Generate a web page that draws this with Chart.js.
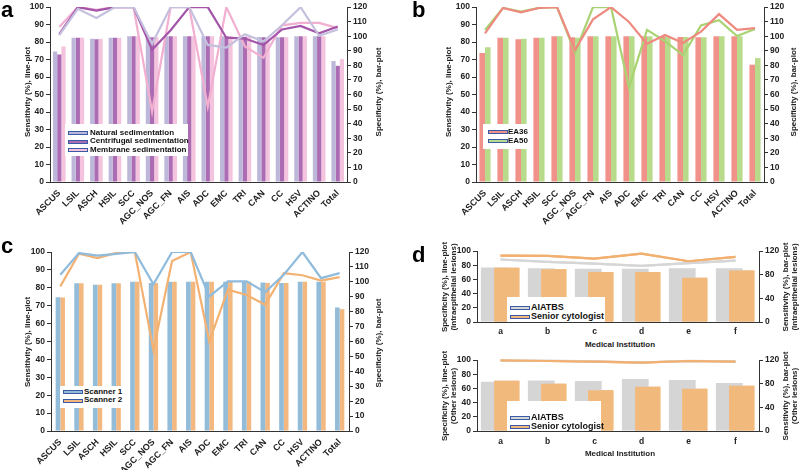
<!DOCTYPE html>
<html><head><meta charset="utf-8">
<script src="https://cdn.jsdelivr.net/npm/chart.js@4/dist/chart.umd.min.js"></script>
<style>
body{margin:0;background:#fff;width:800px;height:470px;position:relative;overflow:hidden;font-family:'Liberation Sans',Arial,sans-serif;}
canvas{position:absolute;}
.t{position:absolute;font-weight:bold;font-size:8px;color:#222;white-space:nowrap;text-align:center;line-height:9px;transform:translate(-50%,-50%) rotate(-90deg);}
.h{position:absolute;font-weight:bold;font-size:8px;color:#222;white-space:nowrap;transform:translate(-50%,-50%);}
.p{position:absolute;font-weight:bold;font-size:22px;line-height:25px;color:#000;}
.lg{position:absolute;background:#fff;}
.lg .it{position:absolute;white-space:nowrap;font-weight:bold;color:#111;}
.lg .sw{position:absolute;width:18px;height:2px;border:1px solid #3a5aa6;}
</style>
</head><body>
<canvas id="ca" width="400" height="235" style="left:0;top:0"></canvas>
<canvas id="cb" width="400" height="235" style="left:400px;top:0"></canvas>
<canvas id="cc" width="400" height="235" style="left:0;top:235px"></canvas>
<canvas id="cd1" width="400" height="100" style="left:400px;top:235px"></canvas>
<canvas id="cd2" width="400" height="100" style="left:400px;top:350px"></canvas>
<script>
// ---------- data ----------
const lesionTypes = ['ASCUS','LSIL','ASCH','HSIL','SCC','AGC_NOS','AGC_FN','AIS','ADC','EMC','TRI','CAN','CC','HSV','ACTINO','Total'];
// panel a
const sensNatural     = [84, 99, 93.8, 100, 100, 79, 100, 100, 78.4, 76.9, 84.5, 80.3, 89.6, 100, 83.6, 87.2];
const sensCentrifugal = [84.5, 100, 98, 100, 100, 75.6, 86.8, 100, 100, 82.5, 82, 78.3, 87.2, 89.2, 85, 88.9];
const sensMembrane    = [88.6, 100, 98.5, 100, 100, 40.2, 100, 100, 43, 100, 77.5, 71, 89.6, 91, 91, 88];
const specNatural     = [89.5, 99, 98.3, 99, 100, 99.3, 100, 100, 100, 100, 100, 99.5, 99.3, 100, 100, 83];
const specCentrifugal = [87.5, 99, 98, 99, 100, 99.3, 100, 100, 100, 100, 99.7, 99.3, 99.3, 100, 100, 79.7];
const specMembrane    = [93, 99, 98.3, 99, 100, 99.3, 100, 100, 100, 100, 99.7, 99.3, 99.3, 100, 100, 84.3];
// panel b
const sensEA36 = [85, 99.5, 97, 99.5, 100, 75.5, 93, 100, 91.5, 79, 84, 79.5, 86, 96, 87, 88];
const sensEA50 = [87, 99.5, 97.5, 99.5, 100, 74, 100, 100, 54, 87, 80.5, 72.5, 89.5, 92.5, 83.5, 87.5];
const specEA36 = [88.5, 99, 98, 99, 100, 99.3, 100, 100, 100, 100, 100, 99.5, 99.3, 100, 100, 80.5];
const specEA50 = [92.5, 99, 98.3, 99, 100, 99, 100, 100, 100, 100, 100, 99.5, 99.3, 100, 100, 85];
// panel c
const sensScanner1 = [87.3, 99.4, 98, 99, 100, 82, 100, 100, 75.2, 83.6, 83.6, 77.6, 87.3, 100, 85.4, 88.2];
const sensScanner2 = [80.8, 99, 96.6, 99.5, 100, 45.3, 95, 100, 50, 79, 76, 70.5, 88.2, 87, 84, 86];
const specScanner1 = [89.7, 99, 98, 99, 100, 99.3, 100, 100, 100, 100, 100, 99.5, 99.3, 100, 100, 82.8];
const specScanner2 = [89.5, 99, 98, 99, 100, 99.3, 100, 100, 100, 100, 100, 99.3, 99.3, 100, 100, 81.7];
// panel d
const institutions = ['a','b','c','d','e','f'];
const specIntraAI     = [88, 84.7, 82.3, 79, 82.8, 86.5];
const specIntraSenior = [93.5, 93, 89.3, 96.3, 85.6, 91.6];
const sensIntraAI     = [92, 91, 89.8, 89.8, 91, 91];
const sensIntraSenior = [91.5, 89.3, 84.3, 84.3, 74.8, 87];
const specOtherAI     = [99.5, 99, 98, 96.5, 98.8, 98];
const specOtherSenior = [99.5, 98.6, 97.6, 96.2, 98.6, 97.6];
const sensOtherAI     = [83.2, 85.5, 84.3, 87.7, 86, 81];
const sensOtherSenior = [84.9, 79.8, 69, 74.7, 71.3, 76.4];

// ---------- setup ----------
Chart.defaults.font.family = "'Liberation Sans', Arial, sans-serif";
Chart.defaults.font.weight = 'bold';
Chart.defaults.font.size = 8;
Chart.defaults.color = '#222';

const redrawPlugin = {
  id: 'redraw',
  afterDatasetsDraw(chart, args, opts) {
    (opts.ids || []).forEach(i => chart.getDatasetMeta(i).controller.draw());
  }
};

function yAxis(pos, max, step, width) {
  return {
    position: pos, min: 0, max: max,
    ticks: {stepSize: step, padding: 2, color: '#222', font: {size: 8.5, weight: 'bold'}},
    grid: {drawOnChartArea: false, drawTicks: true, tickLength: 4, color: '#333', lineWidth: 1},
    border: {display: true, color: '#333', width: 1},
    afterFit(s) { s.width = width; }
  };
}
function xAxis(height, rotate, pad, fs) {
  return {
    grid: {display: false, drawTicks: false},
    border: {display: true, color: '#333', width: 1},
    ticks: {autoSkip: false, maxRotation: rotate, minRotation: rotate, padding: pad, color: '#222', font: {size: fs, weight: 'bold'}},
    afterFit(s) { s.height = height; }
  };
}
function lineDs(data, color, order) {
  return {type: 'line', data, borderColor: color, backgroundColor: color, borderWidth: 2.2, pointRadius: 0, tension: 0, fill: false, yAxisID: 'yL', order: order};
}
function barDs(data, color, order, cat, bp) {
  return {type: 'bar', data, backgroundColor: color, borderWidth: 0, yAxisID: 'yR', order: order, categoryPercentage: cat, barPercentage: bp};
}
function make(id, labels, datasets, pad, wl, wr, xh, rot, xpad, xfs, lstep, rstep, redraw) {
  return new Chart(document.getElementById(id), {
    data: {labels, datasets},
    options: {
      responsive: false, animation: false,
      layout: {padding: {top: pad, left: 0, right: 0, bottom: 0}},
      plugins: {legend: {display: false}, tooltip: {enabled: false}, redraw: {ids: redraw || []}},
      scales: {
        x: xAxis(xh, rot, xpad, xfs),
        yL: yAxis('left', 100, lstep, wl),
        yR: yAxis('right', 120, rstep, wr)
      }
    },
    plugins: [redrawPlugin]
  });
}

// panel a
make('ca', lesionTypes, [
  lineDs(sensNatural, '#c4c0de', 0),
  lineDs(sensCentrifugal, '#a356a9', 0),
  lineDs(sensMembrane, '#f2afd0', 0),
  barDs(specNatural, '#bdb8d9', 1, 0.68, 1),
  barDs(specCentrifugal, '#ab6cb4', 1, 0.68, 1),
  barDs(specMembrane, '#f4c3dd', 1, 0.68, 1)
], 3, 50, 53, 53, 45, 6, 9, 10, 10);

// panel b
make('cb', lesionTypes, [
  lineDs(sensEA36, '#ef8a80', 0),
  lineDs(sensEA50, '#a9d372', 0),
  barDs(specEA36, '#f1928a', 1, 0.62, 1),
  barDs(specEA50, '#b8da8b', 1, 0.62, 1)
], 3, 76, 36, 53, 45, 6, 9, 10, 10);

// panel c
make('cc', lesionTypes, [
  lineDs(sensScanner1, '#8fbbdc', 0),
  lineDs(sensScanner2, '#f3b172', 0),
  barDs(specScanner1, '#93bcd9', 1, 0.5, 1),
  barDs(specScanner2, '#f3b880', 1, 0.5, 1)
], 17, 51, 51, 39, 45, 6, 9, 10, 10);

// panel d (top)
make('cd1', institutions, [
  lineDs(specIntraAI, '#d6d6d6', 5),
  lineDs(specIntraSenior, '#f2b070', 5),
  barDs(sensIntraAI, '#d5d5d5', 1, 0.53, 2.15),
  barDs(sensIntraSenior, '#f2b97d', 2, 0.53, 2.03)
], 16, 77, 41, 13, 0, 5, 8.5, 20, 20, [3, 0, 1]);

// panel d (bottom)
make('cd2', institutions, [
  lineDs(specOtherAI, '#d6d6d6', 5),
  lineDs(specOtherSenior, '#f2b070', 5),
  barDs(sensOtherAI, '#d5d5d5', 1, 0.53, 2.15),
  barDs(sensOtherSenior, '#f2b97d', 2, 0.53, 2.03)
], 10, 77, 41, 19, 0, 6, 8.5, 20, 20, [3, 0, 1]);

// ---------- text ----------
function addDiv(cls, html, x, y) {
  const d = document.createElement('div');
  d.className = cls; d.innerHTML = html;
  d.style.left = x + 'px'; d.style.top = y + 'px';
  document.body.appendChild(d);
  return d;
}
addDiv('p', 'a', 1, -3);
addDiv('p', 'b', 412, -3);
addDiv('p', 'c', 1, 233);
addDiv('p', 'd', 412, 242);

addDiv('t', 'Sensitivity (%), line-plot', 27, 92);
addDiv('t', 'Specificity (%), bar-plot', 378, 92);
addDiv('t', 'Sensitivity (%), line-plot', 448, 92);
addDiv('t', 'Specificity (%), bar-plot', 793, 92);
addDiv('t', 'Sensitivity (%), line-plot', 27, 342);
addDiv('t', 'Specificity (%), bar-plot', 378, 343);
addDiv('t', 'Specificity (%), line-plot<br>(Intraepithelial lesions)', 449, 287);
addDiv('t', 'Sensitivity (%), bar-plot<br>(Intraepithelial lesions)', 790, 287);
addDiv('t', 'Specificity (%), line-plot<br>(Other lesions)', 449, 396);
addDiv('t', 'Sensitivity (%), bar-plot<br>(Other lesions)', 790, 396);
addDiv('h', 'Medical Institution', 620, 344);
addDiv('h', 'Medical Institution', 620, 453);

function legend(x, y, w, h, items, rows, swX, txX, fs) {
  const box = document.createElement('div');
  box.className = 'lg';
  box.style.cssText = `left:${x}px;top:${y}px;width:${w}px;height:${h}px;`;
  items.forEach((it, i) => {
    const sw = document.createElement('div');
    sw.className = 'sw';
    sw.style.cssText = `left:${swX - x}px;top:${rows[i] - y - 2}px;background:${it[1]};`;
    box.appendChild(sw);
    const tx = document.createElement('div');
    tx.className = 'it';
    tx.textContent = it[0];
    tx.style.cssText = `left:${txX - x}px;top:${rows[i] - y - fs * 0.65}px;font-size:${fs}px;line-height:${fs * 1.2}px;`;
    box.appendChild(tx);
  });
  document.body.appendChild(box);
}
legend(65, 124, 123, 32, [['Natural sedimentation', '#bdb8d9'], ['Centrifugal sedimentation', '#ab6cb4'], ['Membrane sedimentation', '#f4c3dd']], [133, 141.5, 150], 68, 90, 8);
legend(483, 124, 45, 25, [['EA36', '#f1928a'], ['EA50', '#b8da8b']], [132, 141], 488, 508, 8);
legend(60, 386, 63, 22, [['Scanner 1', '#93bcd9'], ['Scanner 2', '#f3b880']], [392, 400.5], 63, 84, 8);
legend(507, 297, 98, 25, [['AIATBS', '#d5d5d5'], ['Senior cytologist', '#f2b97d']], [308, 317], 510, 531, 9);
legend(507, 401, 94, 30, [['AIATBS', '#d5d5d5'], ['Senior cytologist', '#f2b97d']], [418, 427], 510, 531, 9);
</script>
</body></html>
